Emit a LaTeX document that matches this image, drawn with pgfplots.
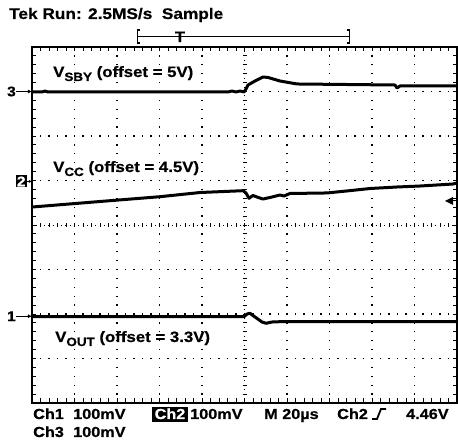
\documentclass[border=0pt]{standalone}
\usepackage{pgfplots}
\pgfplotsset{compat=1.18}
\usetikzlibrary{arrows.meta}
\usepackage{fontspec}
\setmainfont{Liberation Sans}[FakeStretch=1.12, BoldFeatures={FakeBold=0.6}]
\newcommand{\fs}[1]{\fontsize{#1}{#1}\selectfont}
\begin{document}
\begin{tikzpicture}[font=\bfseries]
\useasboundingbox (-32pt,-41pt) rectangle (426pt,403pt);
% grid
\foreach \i in {1,2,3,4,6,7,8,9}
  \draw[line width=1.1pt, dash pattern=on 1.3pt off 7.6pt, dash phase=0.65pt] (\i*42.5pt,0) -- (\i*42.5pt,356pt);
\foreach \j in {1,2,3,5,6,7}
  \draw[line width=1.1pt, dash pattern=on 1.3pt off 7.2pt, dash phase=0.65pt] (0,\j*44.5pt) -- (425pt,\j*44.5pt);
% centre lines
\draw[line width=0.9pt, dash pattern=on 1pt off 3.45pt, dash phase=0.5pt] (212.5pt,0) -- (212.5pt,356pt);
\draw[line width=0.9pt, dash pattern=on 1pt off 3.25pt, dash phase=0.5pt] (0,178pt) -- (425pt,178pt);
\foreach \k in {1,...,49} \draw[line width=0.8pt] (\k*8.5pt,176pt) -- (\k*8.5pt,180pt);
\foreach \k in {1,...,39} \draw[line width=0.8pt] (210.5pt,\k*8.9pt) -- (214.5pt,\k*8.9pt);
% frame ruler ticks
\foreach \k in {1,...,49} {
  \draw[line width=0.9pt] (\k*8.5pt,0) -- (\k*8.5pt,4.5pt);
  \draw[line width=0.9pt] (\k*8.5pt,356pt) -- (\k*8.5pt,351.5pt);}
\foreach \k in {1,...,39} {
  \draw[line width=0.9pt] (0,\k*8.9pt) -- (4.5pt,\k*8.9pt);
  \draw[line width=0.9pt] (425pt,\k*8.9pt) -- (420.5pt,\k*8.9pt);}
\begin{axis}[at={(0,0)}, anchor=south west, scale only axis,
  width=425pt, height=356pt,
  xmin=-5, xmax=5, ymin=-4, ymax=4,
  xtick=\empty, ytick=\empty,
  axis line style={line width=1.8pt},
  clip=true]
% Ch3 (V_SBY)
\addplot[line width=3pt, line join=round, no marks] coordinates {
(-5.0,2.989) (-4.765,2.989) (-4.694,3.011) (-4.624,2.989) (-0.388,2.989) (-0.294,3.011)
(-0.2,2.989) (-0.106,3.011) (-0.012,2.989) (0.035,3.056) (0.082,3.146) (0.247,3.236)
(0.435,3.326) (0.553,3.315) (0.835,3.236) (1.235,3.169) (3.541,3.146) (3.588,3.079)
(3.659,3.124) (5.0,3.124)};
% Ch2 (V_CC)
\addplot[line width=3pt, line join=round, no marks] coordinates {
(-5.0,0.404) (-3.4,0.528) (-1.988,0.636) (-1.047,0.73) (-0.035,0.771) (0.035,0.72)
(0.106,0.6) (0.2,0.663) (0.294,0.629) (0.435,0.584) (0.647,0.629) (0.835,0.674)
(0.929,0.652) (1.071,0.708) (1.941,0.72) (2.4,0.764) (2.953,0.82) (3.588,0.854)
(4.129,0.876) (4.906,0.921) (5.0,0.944)};
% Ch1 (V_OUT)
\addplot[line width=3pt, line join=round, no marks] coordinates {
(-5.0,-2.061) (-0.012,-2.061) (0.059,-2.0) (0.129,-1.984) (0.247,-2.067) (0.412,-2.18)
(0.506,-2.209) (0.647,-2.18) (0.835,-2.173) (5.0,-2.173)};
\end{axis}
% left channel markers
\node[anchor=east, inner sep=0pt, font=\bfseries\fs{14}] at (-16pt,311.5pt) {3};
\draw[line width=0.9pt, -{Latex[length=4pt,width=4pt]}] (-16pt,311.5pt) -- (0pt,311.5pt);
\node[anchor=east, fill=black, text=white, inner sep=1.2pt, font=\bfseries\fs{14}] at (-5pt,221.6pt) {2};
\draw[line width=0.9pt, -{Latex[length=3pt,width=3pt]}] (-5pt,221.6pt) -- (0pt,221.6pt);
\node[anchor=east, inner sep=0pt, font=\bfseries\fs{14}] at (-16pt,86.8pt) {1};
\draw[line width=0.9pt, -{Latex[length=4pt,width=4pt]}] (-16pt,86.8pt) -- (0pt,86.8pt);
% trigger level marker
\fill (413pt,202pt) -- (421pt,206pt) -- (421pt,198pt) -- cycle;
\draw[line width=1pt] (420pt,202pt) -- (425pt,202pt);
% trace labels
\node[anchor=base west, inner sep=0pt] at (21pt,326pt) {\fs{15}V\raisebox{-4pt}{\fs{12}SBY} (offset = 5V)};
\node[anchor=base west, inner sep=0pt] at (21pt,231pt) {\fs{15}V\raisebox{-4pt}{\fs{12}CC} (offset = 4.5V)};
\node[anchor=base west, inner sep=0pt] at (23pt,61pt) {\fs{15}V\raisebox{-4pt}{\fs{12}OUT} (offset = 3.3V)};
% title and record bracket
\node[anchor=base west, inner sep=0pt] at (-23pt,384pt) {\fs{15.4}Tek Run: 2.5MS/s\ \ Sample};
\draw[line width=1.2pt] (106pt,366.5pt) -- (317pt,366.5pt);
\draw[line width=1.6pt] (108pt,373pt) -- (105.5pt,373pt) -- (105.5pt,360pt) -- (108pt,360pt);
\draw[line width=1.6pt] (315pt,373pt) -- (317.5pt,373pt) -- (317.5pt,360pt) -- (315pt,360pt);
\node[anchor=base, inner sep=0pt] at (148pt,361pt) {\fs{15}T};
% bottom readout
\node[anchor=base west, inner sep=0pt] at (1pt,-16pt) {\fs{14.5}Ch1};
\node[anchor=base west, inner sep=0pt] at (41pt,-16pt) {\fs{14.5}100mV};
\fill (120pt,-19.5pt) rectangle (156pt,-4.5pt);
\node[anchor=base, inner sep=0pt, text=white] at (138pt,-16pt) {\fs{14.5}Ch2};
\node[anchor=base west, inner sep=0pt] at (158pt,-16pt) {\fs{14.5}100mV};
\node[anchor=base west, inner sep=0pt] at (232pt,-16pt) {\fs{14.5}M 20µs};
\node[anchor=base west, inner sep=0pt] at (305pt,-16pt) {\fs{14.5}Ch2};
\draw[line width=1.8pt] (340pt,-16pt) -- (345pt,-16pt) -- (349pt,-6pt) -- (354pt,-6pt);
\node[anchor=base west, inner sep=0pt] at (374pt,-16pt) {\fs{14.5}4.46V};
\node[anchor=base west, inner sep=0pt] at (1pt,-34pt) {\fs{14.5}Ch3};
\node[anchor=base west, inner sep=0pt] at (41pt,-34pt) {\fs{14.5}100mV};
\end{tikzpicture}
\end{document}
